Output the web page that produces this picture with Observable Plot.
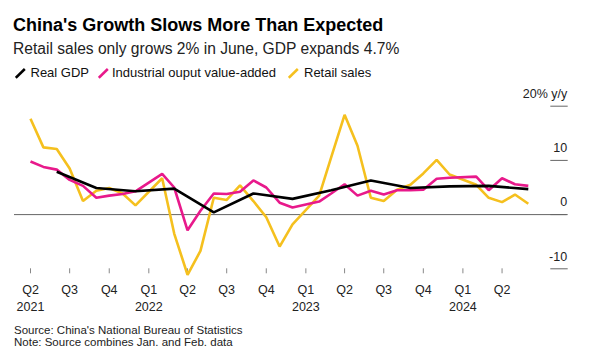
<!DOCTYPE html>
<html>
<head>
<meta charset="utf-8">
<script src="https://cdn.jsdelivr.net/npm/d3@7"></script>
<script src="https://cdn.jsdelivr.net/npm/@observablehq/plot@0.6"></script>
<style>
  html, body { margin: 0; padding: 0; background: #fff; }
  body { width: 612px; height: 362px; position: relative; overflow: hidden; font-family: "Liberation Sans", Arial, sans-serif; color: #111; }
  .abs { position: absolute; white-space: nowrap; }
  #title { left: 13px; top: 15.5px; font-size: 18px; line-height: 18px; font-weight: bold; color: #000; }
  #subtitle { left: 13px; top: 41.1px; font-size: 15.6px; line-height: 15.6px; color: #222; }
  .leg { font-size: 13px; line-height: 13px; top: 66px; color: #111; }
  .icon { top: 68px; }
  .foot { font-size: 11.5px; line-height: 11px; left: 14px; color: #222; }
  #chart { position: absolute; left: 0; top: 84px; }
</style>
</head>
<body>
<div id="title" class="abs">China's Growth Slows More Than Expected</div>
<div id="subtitle" class="abs">Retail sales only grows 2% in June, GDP expands 4.7%</div>
<div id="legend"></div>
<div id="chart"></div>
<div id="source" class="abs foot" style="top:325px">Source: China's National Bureau of Statistics</div>
<div id="note" class="abs foot" style="top:336.5px">Note: Source combines Jan. and Feb. data</div>
<script>
// ---- Data ----
const monthDates = [
  "2021-04","2021-05","2021-06","2021-07","2021-08","2021-09","2021-10","2021-11","2021-12",
  "2022-02","2022-03","2022-04","2022-05","2022-06","2022-07","2022-08","2022-09","2022-10","2022-11","2022-12",
  "2023-02","2023-03","2023-04","2023-05","2023-06","2023-07","2023-08","2023-09","2023-10","2023-11","2023-12",
  "2024-02","2024-03","2024-04","2024-05","2024-06"
];
const retailSales = [
  17.7,12.4,12.1,8.5,2.5,4.4,4.9,3.9,1.7,
  6.7,-3.5,-11.1,-6.7,3.1,2.7,5.4,2.5,-0.5,-5.9,-1.8,
  3.5,10.6,18.4,12.7,3.1,2.5,4.6,5.5,7.6,10.1,7.4,
  5.5,3.1,2.3,3.7,2.0
];
const industrialOutput = [
  9.8,8.8,8.3,6.4,5.3,3.1,3.5,3.8,4.3,
  7.5,5.0,-2.9,0.7,3.9,3.8,4.2,6.3,5.0,2.2,1.3,
  2.4,3.9,5.6,3.5,4.4,3.7,4.5,4.5,4.6,6.6,6.8,
  7.0,4.5,6.7,5.6,5.3
];
const gdpDates = ["2021-06","2021-09","2021-12","2022-03","2022-06","2022-09","2022-12","2023-03","2023-06","2023-09","2023-12","2024-03","2024-06"];
const realGDP = [7.9,4.9,4.3,4.8,0.4,3.9,2.9,4.5,6.3,4.9,5.2,5.3,4.7];

const xTickDates = ["2021-04","2021-07","2021-10","2022-01","2022-04","2022-07","2022-10","2023-01","2023-04","2023-07","2023-10","2024-01","2024-04"];
const xTickLabels = ["Q2\n2021","Q3","Q4","Q1\n2022","Q2","Q3","Q4","Q1\n2023","Q2","Q3","Q4","Q1\n2024","Q2"];
const yTicks = [-10, 0, 10, 20];
const yTickLabels = ["-10", "0", "10", "20% y/y"];

const seriesNames = ["Real GDP", "Industrial ouput value-added", "Retail sales"];
const seriesColors = ["#000000", "#e8198b", "#f5c01e"];

// ---- Build ----
const parse = d3.utcParse("%Y-%m");
const retailData = monthDates.map((m, i) => ({date: parse(m), value: retailSales[i]}));
const industryData = monthDates.map((m, i) => ({date: parse(m), value: industrialOutput[i]}));
const gdpData = gdpDates.map((m, i) => ({date: parse(m), value: realGDP[i]}));
const xTicks = xTickDates.map(parse);
const xLabelMap = new Map(xTicks.map((d, i) => [+d, xTickLabels[i]]));
const yLabelMap = new Map(yTicks.map((t, i) => [t, yTickLabels[i]]));

const lineOpts = {x: "date", y: "value", strokeWidth: 2.6, strokeLinejoin: "miter", strokeLinecap: "butt"};

const chart = Plot.plot({
  width: 612,
  height: 240,
  marginTop: 21.7,
  marginBottom: 55.7,
  marginLeft: 30,
  marginRight: 84.2,
  style: {fontFamily: '"Liberation Sans", Arial, sans-serif', fontSize: "12.5px", color: "#222", background: "transparent", overflow: "visible"},
  x: {type: "utc", domain: [parse("2021-04"), parse("2024-06")], label: null},
  y: {domain: [-10, 20], label: null},
  marks: [
    Plot.ruleY([0], {stroke: "#666", strokeWidth: 1, insetLeft: -16, insetRight: -38.9}),
    Plot.axisY({ticks: yTicks, anchor: "right", tickSize: 17.4, dx: 21.5, tickFormat: () => "", stroke: "#666", label: null}),
    Plot.axisY({ticks: yTicks, anchor: "right", tickSize: 0, tickPadding: 0, dx: 38.9, dy: -12.3, textAnchor: "end", fill: "#222", tickFormat: (d) => yLabelMap.get(d), label: null}),
    Plot.axisX({ticks: xTicks, anchor: "bottom", tickSize: 5, tickFormat: () => "", stroke: "#888", label: null}),
    Plot.axisX({ticks: xTicks, anchor: "bottom", tickSize: 0, tickPadding: 13.3, lineHeight: 1.36, fill: "#222", tickFormat: (d) => xLabelMap.get(+d), label: null}),
    Plot.line(retailData, {...lineOpts, stroke: seriesColors[2]}),
    Plot.line(industryData, {...lineOpts, stroke: seriesColors[1]}),
    Plot.line(gdpData, {...lineOpts, stroke: seriesColors[0]})
  ]
});
document.getElementById("chart").appendChild(chart);

// ---- Legend ----
const iconLefts = [15, 97.7, 288.3];
const textLefts = [30.5, 112, 304];
const legend = document.getElementById("legend");
seriesNames.forEach((name, i) => {
  const icon = document.createElementNS("http://www.w3.org/2000/svg", "svg");
  icon.setAttribute("width", 11);
  icon.setAttribute("height", 11);
  icon.setAttribute("class", "abs icon");
  icon.style.left = iconLefts[i] + "px";
  icon.innerHTML = `<line x1="0.8" y1="9.8" x2="9.8" y2="1" stroke="${seriesColors[i]}" stroke-width="2.5"/>`;
  legend.appendChild(icon);
  const t = document.createElement("div");
  t.className = "abs leg";
  t.style.left = textLefts[i] + "px";
  t.textContent = name;
  legend.appendChild(t);
});
</script>
</body>
</html>
